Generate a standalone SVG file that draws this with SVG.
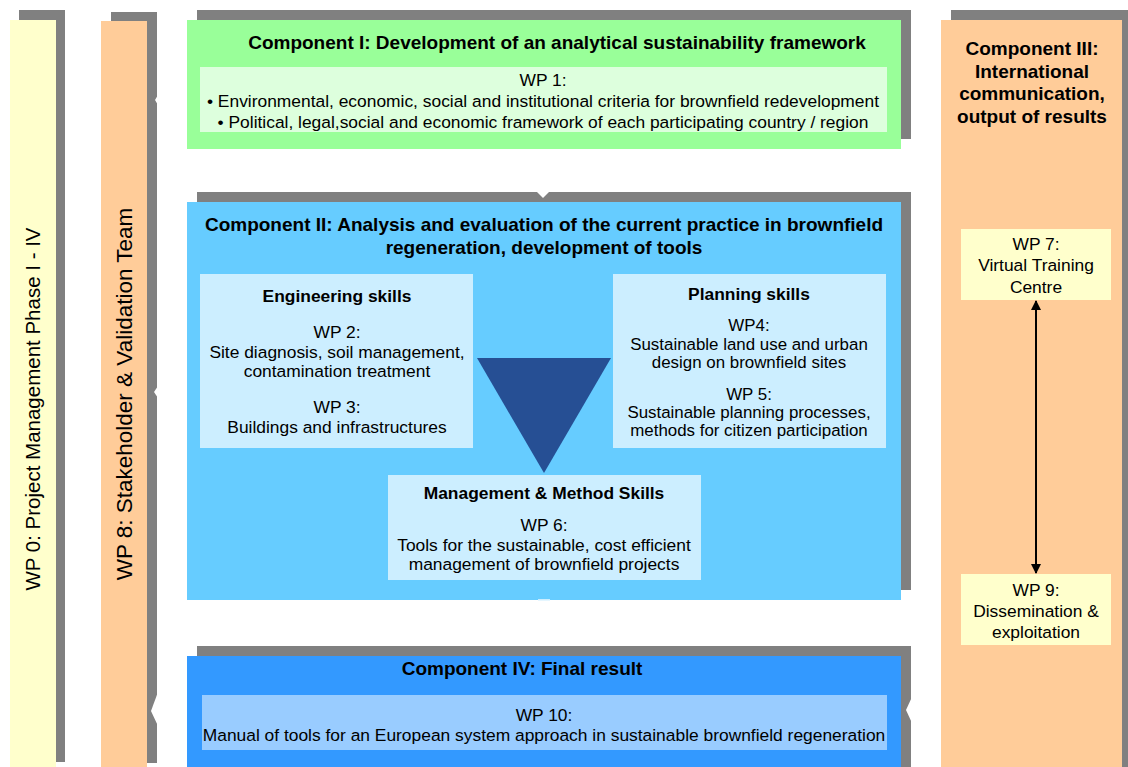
<svg xmlns="http://www.w3.org/2000/svg" width="1128" height="767" viewBox="0 0 1128 767">
  <defs>
    <style>
      text { font-family: "Liberation Sans", Arial, sans-serif; fill: #000; }
      .shadow { fill: #808080; }
      .t { font-size: 17.4px; text-anchor: middle; }
      .s { font-size: 16.9px; text-anchor: middle; }
      .b { font-size: 17.4px; font-weight: bold; text-anchor: middle; }
      .h { font-size: 19px; font-weight: bold; text-anchor: middle; }
      .notch { fill: #FFFFFF; }
    </style>
    <marker id="arr" viewBox="0 0 10 10" refX="9" refY="5" markerWidth="5" markerHeight="5" orient="auto-start-reverse">
      <path d="M0,0 L10,5 L0,10 z" fill="#000"/>
    </marker>
  </defs>

  <rect width="1128" height="767" fill="#FFFFFF"/>

  <!-- WP 0 side bar -->
  <g id="wp0">
    <rect class="shadow" x="19" y="10" width="46" height="752"/>
    <rect x="10" y="20" width="46" height="747" fill="#FFFFCC"/>
    <text transform="translate(40,409) rotate(-90)" font-size="20.5" text-anchor="middle">WP 0: Project Management Phase I - IV</text>
  </g>

  <!-- WP 8 side bar -->
  <g id="wp8">
    <rect class="shadow" x="111" y="12" width="46" height="751"/>
    <rect x="101" y="21" width="46" height="746" fill="#FFCC99"/>
    <text transform="translate(132,394) rotate(-90)" font-size="22.5" text-anchor="middle">WP 8: Stakeholder &amp; Validation Team</text>
  </g>

  <!-- Component I -->
  <g id="component1">
    <rect class="shadow" x="197" y="10" width="714" height="129"/>
    <rect x="187" y="20" width="714" height="129" fill="#99FF99"/>
    <text class="h" x="557" y="49">Component I: Development of an analytical sustainability framework</text>
    <rect x="200" y="67" width="687" height="65" fill="#DDFFDD"/>
    <text class="t" x="543" y="86">WP 1:</text>
    <text class="t" x="543" y="107">• Environmental, economic, social and institutional criteria for brownfield redevelopment</text>
    <text class="t" x="543" y="128">• Political, legal,social and economic framework of each participating country / region</text>
  </g>

  <!-- Component II -->
  <g id="component2">
    <rect class="shadow" x="197" y="192" width="714" height="398"/>
    <rect x="187" y="202" width="714" height="398" fill="#66CCFF"/>
    <text class="h" x="544" y="231">Component II: Analysis and evaluation of the current practice in brownfield</text>
    <text class="h" x="544" y="254">regeneration, development of tools</text>
  </g>

  <g id="engineering">
    <rect x="200" y="274" width="273" height="174" fill="#CCEEFF"/>
    <text class="b" x="337" y="302">Engineering skills</text>
    <text class="t" x="337" y="338">WP 2:</text>
    <text class="t" x="337" y="358">Site diagnosis, soil management,</text>
    <text class="t" x="337" y="377">contamination treatment</text>
    <text class="t" x="337" y="413">WP 3:</text>
    <text class="t" x="337" y="433">Buildings and infrastructures</text>
  </g>

  <g id="planning">
    <rect x="613" y="274" width="273" height="174" fill="#CCEEFF"/>
    <text class="b" x="749" y="300">Planning skills</text>
    <text class="s" x="749" y="331">WP4:</text>
    <text class="s" x="749" y="350">Sustainable land use and urban</text>
    <text class="s" x="749" y="368">design on brownfield sites</text>
    <text class="s" x="749" y="400">WP 5:</text>
    <text class="s" x="749" y="418">Sustainable planning processes,</text>
    <text class="s" x="749" y="436">methods for citizen participation</text>
  </g>

  <g id="funnel">
    <polygon points="477,358 611,358 544,473" fill="#264F94"/>
  </g>

  <g id="management">
    <rect x="388" y="475" width="313" height="105" fill="#CCEEFF"/>
    <text class="b" x="544" y="499">Management &amp; Method Skills</text>
    <text class="t" x="544" y="531">WP 6:</text>
    <text class="t" x="544" y="551">Tools for the sustainable, cost efficient</text>
    <text class="t" x="544" y="570">management of brownfield projects</text>
  </g>

  <!-- Component III -->
  <g id="component3">
    <rect class="shadow" x="951" y="10" width="177" height="757"/>
    <rect x="941" y="20" width="181" height="747" fill="#FFCC99"/>
    <text class="h" x="1032" y="55">Component III:</text>
    <text class="h" x="1032" y="78">International</text>
    <text class="h" x="1032" y="100">communication,</text>
    <text class="h" x="1032" y="123">output of results</text>
  </g>

  <g id="wp7">
    <rect x="961" y="229" width="150" height="71" fill="#FFFFCC"/>
    <text class="t" x="1036" y="250">WP 7:</text>
    <text class="t" x="1036" y="271">Virtual Training</text>
    <text class="t" x="1036" y="293">Centre</text>
  </g>

  <g id="wp9">
    <rect x="961" y="574" width="150" height="71" fill="#FFFFCC"/>
    <text class="t" x="1036" y="596">WP 9:</text>
    <text class="t" x="1036" y="617">Dissemination &amp;</text>
    <text class="t" x="1036" y="638">exploitation</text>
  </g>

  <!-- Component IV -->
  <g id="component4">
    <rect class="shadow" x="197" y="646" width="714" height="121"/>
    <rect x="187" y="656" width="714" height="111" fill="#3399FF"/>
    <text class="h" x="522" y="675">Component IV: Final result</text>
    <rect x="202" y="695" width="685" height="55" fill="#99CCFF"/>
    <text class="t" x="544" y="721">WP 10:</text>
    <text class="t" x="544" y="741">Manual of tools for an European system approach in sustainable brownfield regeneration</text>
  </g>

  <!-- arrow tips cutting into the shadows -->
  <g id="tips">
    <polygon class="notch" points="158,95 155,100 158,105"/>
    <polygon class="notch" points="158,386 154,392 158,398"/>
    <polygon class="notch" points="158,692 151,711 158,726"/>
    <polygon class="notch" points="912,697 906,710 912,723"/>
    <polygon class="notch" points="537,192 549,192 543,198"/>
    <rect x="538" y="599" width="12" height="1.5" fill="#CCEEFF"/>
  </g>

  <!-- connectors -->
  <g id="connectors">
    <line x1="1036" y1="301" x2="1036" y2="573" stroke="#000" stroke-width="2" marker-start="url(#arr)" marker-end="url(#arr)"/>
  </g>
</svg>
